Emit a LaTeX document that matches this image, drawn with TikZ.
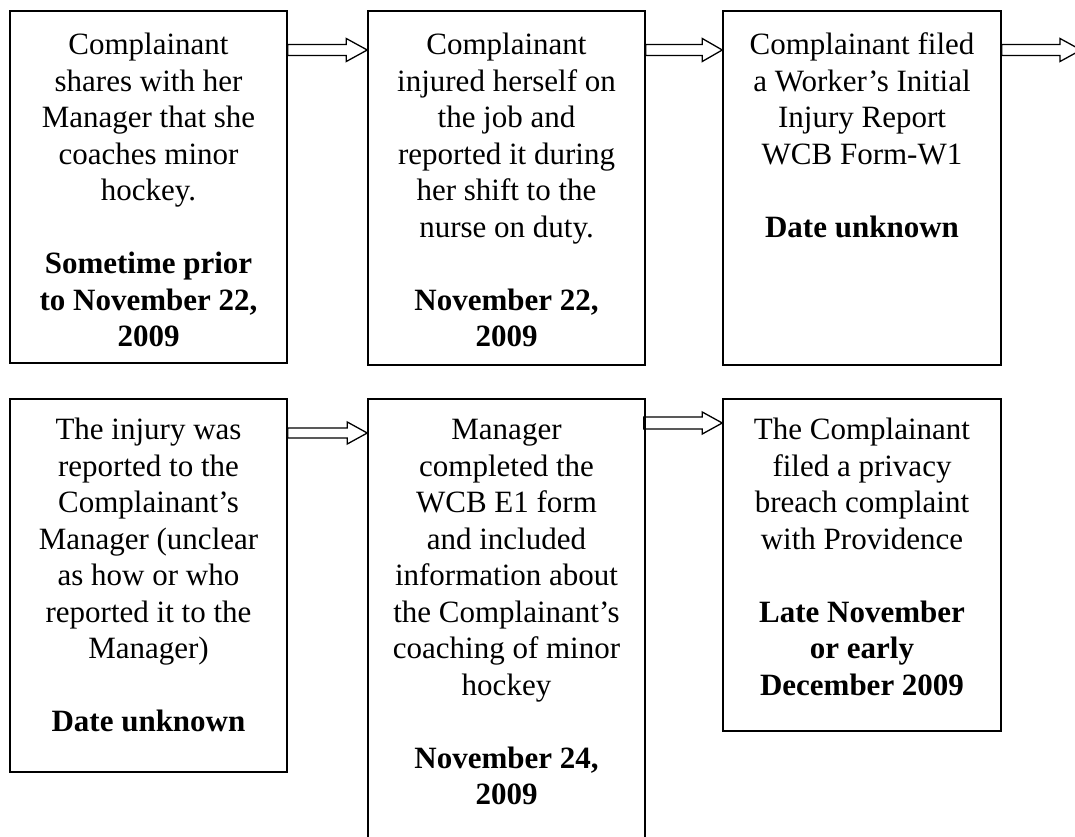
\documentclass[tikz,border=0pt]{standalone}
\usepackage{fontspec}
\setmainfont{Liberation Serif}
\usetikzlibrary{calc}
\tikzset{
  box/.style={draw=black, line width=1.5pt, inner sep=0pt},
  txt/.style={anchor=north, align=center, inner sep=0pt, font=\fontsize{31}{36.5}\selectfont},
  barrow/.style={draw=black, line width=1.3pt, line join=miter}
}
\newcommand\blockarr[5]{\draw[barrow] ($(#1)+(0,#3)$) -- ($(#2)+(-#5,#3)$) -- ($(#2)+(-#5,#4)$) -- (#2) -- ($(#2)+(-#5,-#4)$) -- ($(#2)+(-#5,-#3)$) -- ($(#1)+(0,-#3)$) -- cycle;}
\begin{document}
\begin{tikzpicture}[x=1pt,y=-1pt]
\useasboundingbox (0,0) rectangle (1075,837);
\clip (0,0) rectangle (1075,837);
% boxes
\node[box, minimum width=277pt, minimum height=352pt] (b1) at (148.5,187) {};
\node[box, minimum width=277pt, minimum height=354pt] (b2) at (506.5,188) {};
\node[box, minimum width=278pt, minimum height=354pt] (b3) at (862,188) {};
\node[box, minimum width=277pt, minimum height=373pt] (b4) at (148.5,585.5) {};
\node[box, minimum width=277pt, minimum height=443pt] (b5) at (506.5,620.5) {};
\node[box, minimum width=278pt, minimum height=332pt] (b6) at (862,565) {};
% texts
\node[txt] (t1) at ([yshift=-18.5pt]b1.north) {\strut Complainant\\shares with her\\Manager that she\\coaches minor\\hockey.\\[36.5pt]\textbf{Sometime prior}\\\textbf{to November 22,}\\\textbf{2009}};
\node[txt] (t2) at ([yshift=-18.5pt]b2.north) {\strut Complainant\\injured herself on\\the job and\\reported it during\\her shift to the\\nurse on duty.\\[36.5pt]\textbf{November 22,}\\\textbf{2009}};
\node[txt] (t3) at ([yshift=-18.5pt]b3.north) {\strut Complainant filed\\a Worker’s Initial\\Injury Report\\WCB Form-W1\\[36.5pt]\textbf{Date unknown}};
\node[txt] (t4) at ([yshift=-15.5pt]b4.north) {\strut The injury was\\reported to the\\Complainant’s\\Manager (unclear\\as how or who\\reported it to the\\Manager)\\[36.5pt]\textbf{Date unknown}};
\node[txt] (t5) at ([yshift=-15.5pt]b5.north) {\strut Manager\\completed the\\WCB E1 form\\and included\\information about\\the Complainant’s\\coaching of minor\\hockey\\[36.5pt]\textbf{November 24,}\\\textbf{2009}};
\node[txt] (t6) at ([yshift=-15.5pt]b6.north) {\strut The Complainant\\filed a privacy\\breach complaint\\with Providence\\[36.5pt]\textbf{Late November}\\\textbf{or early}\\\textbf{December 2009}};
% arrow end points
\coordinate (a1s) at (b1.east |- 0,50);
\coordinate (a1e) at (b2.west |- 0,50);
\coordinate (a2s) at (b2.east |- 0,50);
\coordinate (a2e) at (b3.west |- 0,50);
\coordinate (a3s) at (b3.east |- 0,50);
\coordinate (a3e) at (1081,50);
\coordinate (a4s) at (b4.east |- 0,433);
\coordinate (a4e) at (b5.west |- 0,433);
\coordinate (a5s) at ([xshift=-2pt]b5.east |- 0,423);
\coordinate (a5e) at (b6.west |- 0,423);
\blockarr{a1s}{a1e}{5.5}{11.5}{21}
\blockarr{a2s}{a2e}{5.5}{11.5}{20}
\blockarr{a3s}{a3e}{5.5}{11.5}{21}
\blockarr{a4s}{a4e}{5}{11}{20}
\blockarr{a5s}{a5e}{6}{11}{20}
\end{tikzpicture}
\end{document}
